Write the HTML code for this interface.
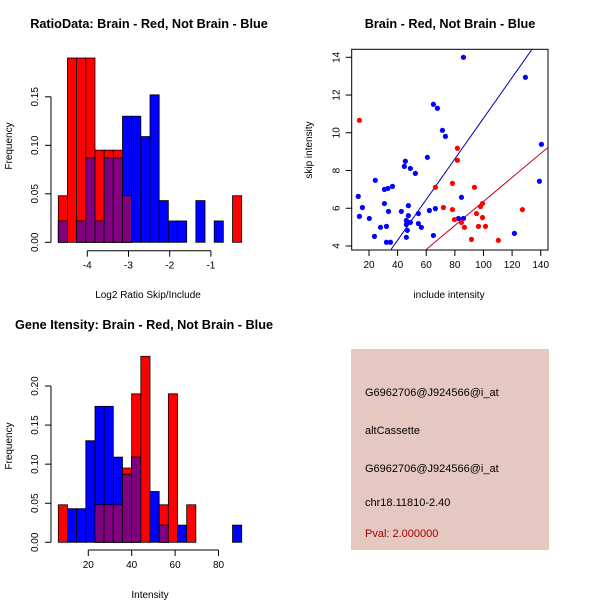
<!DOCTYPE html>
<html><head><meta charset="utf-8"><style>
body{margin:0;background:#fff;font-family:"Liberation Sans",sans-serif}
svg text{font-family:"Liberation Sans",sans-serif}
</style></head><body>
<svg id="c" width="600" height="600" xmlns="http://www.w3.org/2000/svg">
<rect width="600" height="600" fill="#fff"/>
<text x="149" y="28" font-size="12.7" font-weight="bold" text-anchor="middle">RatioData: Brain - Red, Not Brain - Blue</text>
<text x="450" y="28" font-size="12.7" font-weight="bold" text-anchor="middle">Brain - Red, Not Brain - Blue</text>
<text x="144" y="329" font-size="12.7" font-weight="bold" text-anchor="middle">Gene Itensity: Brain - Red, Not Brain - Blue</text>
<text x="148" y="298" font-size="10" text-anchor="middle">Log2 Ratio Skip/Include</text>
<text x="12" y="146" font-size="10" text-anchor="middle" transform="rotate(-90 12 146)">Frequency</text>
<text x="150" y="598" font-size="10" text-anchor="middle">Intensity</text>
<text x="12" y="446" font-size="10" text-anchor="middle" transform="rotate(-90 12 446)">Frequency</text>
<text x="449" y="298" font-size="10" text-anchor="middle">include intensity</text>
<text x="312" y="150" font-size="10" text-anchor="middle" transform="rotate(-90 312 150)">skip intensity</text>
<g id="h1"></g>
<g id="h2"></g>
<g id="sc"></g>
<g>
<rect x="351" y="349" width="198" height="201" fill="#e6c8c2"/>
<text x="365" y="396" font-size="11">G6962706@J924566@i_at</text>
<text x="365" y="434" font-size="11">altCassette</text>
<text x="365" y="472" font-size="11">G6962706@J924566@i_at</text>
<text x="365" y="506" font-size="11">chr18.11810-2.40</text>
<text x="365" y="537" font-size="11" fill="#a00000">Pval: 2.000000</text>
</g>
</svg>
<script>
const NS="http://www.w3.org/2000/svg";
// Ratio histogram data (20 bins)
const ratioRed=[0.048,0.19,0.19,0.19,0.095,0.095,0.095,0.048,0,0,0,0,0,0,0,0,0,0,0,0.048];
const ratioBlue=[0.022,0,0.022,0.087,0.022,0.087,0.087,0.13,0.13,0.109,0.152,0.043,0.022,0.022,0,0.043,0,0.022,0,0];
const ratioYTicks=[0,0.05,0.10,0.15];
const ratioYLabels=["0.00","0.05","0.10","0.15"];
const ratioXTicks=[-4,-3,-2,-1];
// Intensity histogram data (20 bins)
const intRed=[0.048,0,0,0,0.048,0.048,0.048,0.095,0.19,0.238,0,0.048,0.19,0,0.048,0,0,0,0,0];
const intBlue=[0,0.043,0.043,0.13,0.174,0.174,0.109,0.087,0.109,0,0.065,0.022,0,0.022,0,0,0,0,0,0.022];
const intYTicks=[0,0.05,0.10,0.15,0.20];
const intYLabels=["0.00","0.05","0.10","0.15","0.20"];
const intXTicks=[20,40,60,80];
// Scatter data
const blueX=[12.5,13.3,15.4,20.2,24.4,23.8,28,30.8,33.2,36.4,30.8,33.6,32.2,32.2,35,42.6,45.4,44.7,48.9,52.4,47.5,47.5,46.1,46.1,48.9,46.8,46.1,54.5,54.5,56.6,60.8,62.2,65,67.8,66.4,65,71.3,73.4,84.6,82.5,86,86,129.3,140.5,139.1,121.6];
const blueY=[6.63,5.57,6.04,5.46,7.48,4.51,4.99,7.0,7.05,7.16,6.25,5.83,5.04,4.2,4.2,5.83,8.49,8.22,8.11,7.85,6.14,5.61,5.35,5.14,5.25,4.83,4.46,5.72,5.19,4.99,8.7,5.88,11.51,11.3,5.98,4.56,10.13,9.81,6.58,5.46,5.46,14,12.94,9.39,7.43,4.67];
const redX=[13.3,66.4,78.3,81.8,81.8,72,78.3,79.7,84.6,86.7,91.6,93.7,95.1,96.5,97.9,99.3,99.3,101.4,110.4,127.2];
const redY=[10.66,7.11,7.32,9.18,8.54,6.04,5.93,5.4,5.25,4.99,4.35,7.11,5.72,5.04,6.09,6.25,5.51,5.04,4.3,5.93];
const lineSlopes=[0.1077,0.0636];
const sxTicks=[20,40,60,80,100,120,140];
const syTicks=[4,6,8,10,12,14];

function mk(p,tag,a){const e=document.createElementNS(NS,tag);for(const k in a)e.setAttribute(k,a[k]);p.appendChild(e);return e;}

function hist(g,red,blue,y0,yscale,yTicks,yLabels,xTicks,xpx,axisY){
  const left=58.3,bw=9.17;
  for(let i=0;i<red.length;i++){
    const x=left+i*bw;
    const r=red[i],b=blue[i],m=Math.min(r,b);
    if(r>0){const e=mk(g,'rect',{x:x,y:y0-r*yscale,width:bw,height:r*yscale,fill:'#ff0000',stroke:'#000','stroke-width':0.8});
      
      }
    if(b>0){const e=mk(g,'rect',{x:x,y:y0-b*yscale,width:bw,height:b*yscale,fill:'#0000ff',stroke:'#000','stroke-width':0.8});
      
      }
    if(m>0){const e=mk(g,'rect',{x:x,y:y0-m*yscale,width:bw,height:m*yscale,fill:'#800080',stroke:'#000','stroke-width':0.8});
      
      }
  }
  const ax=51;
  const yt=yTicks.map(v=>y0-v*yscale);
  mk(g,'line',{x1:ax,x2:ax,y1:yt[0],y2:yt[yt.length-1],stroke:'#000'});
  yTicks.forEach((v,i)=>{const y=y0-v*yscale;mk(g,'line',{x1:ax-6,x2:ax,y1:y,y2:y,stroke:'#000'});
    const t=mk(g,'text',{x:38,y:y,'font-size':10,'text-anchor':'middle',transform:`rotate(-90 38 ${y})`});t.textContent=yLabels[i];
    
    });
  const xs=xTicks.map(xpx);
  mk(g,'line',{x1:xs[0],x2:xs[xs.length-1],y1:axisY,y2:axisY,stroke:'#000'});
  xTicks.forEach(v=>{const x=xpx(v);mk(g,'line',{x1:x,x2:x,y1:axisY,y2:axisY+6,stroke:'#000'});
    const t=mk(g,'text',{x:x,y:axisY+18,'font-size':10,'text-anchor':'middle'});t.textContent=v;
    
    });
}
hist(document.getElementById('h1'),ratioRed,ratioBlue,242.3,970,ratioYTicks,ratioYLabels,ratioXTicks,v=>87.3+(v+4)*41.2,250.7);
hist(document.getElementById('h2'),intRed,intBlue,542.3,781.5,intYTicks,intYLabels,intXTicks,v=>88.3+(v-20)*2.17,550);

(function(){
  const g=document.getElementById('sc');
  const sx=v=>369+(v-20)*1.431, sy=v=>246-(v-4)*18.87;
  const L=351.7,R=548,T=49.3,B=250;
  mk(g,'rect',{x:L,y:T,width:R-L,height:B-T,fill:'none',stroke:'#000'});
  sxTicks.forEach(v=>{const x=sx(v);mk(g,'line',{x1:x,x2:x,y1:B,y2:B+6,stroke:'#000'});
    const t=mk(g,'text',{x:x,y:B+18,'font-size':10,'text-anchor':'middle'});t.textContent=v;
    
    });
  syTicks.forEach(v=>{const y=sy(v);mk(g,'line',{x1:L-6,x2:L,y1:y,y2:y,stroke:'#000'});
    const t=mk(g,'text',{x:L-12,y:y,'font-size':10,'text-anchor':'middle',transform:`rotate(-90 ${L-12} ${y})`});t.textContent=v;
    
    });
  const cp=mk(g,'clipPath',{id:'cp'});mk(cp,'rect',{x:L,y:T,width:R-L,height:B-T});
  const gl=mk(g,'g',{'clip-path':'url(#cp)'});
  const lc=['#0000aa','#bb0022'];
  lineSlopes.forEach((s,i)=>{const e=mk(gl,'line',{x1:sx(0),y1:sy(0),x2:sx(160),y2:sy(160*s),stroke:lc[i],'stroke-width':1});
    
    });
  blueX.forEach((x,i)=>{const e=mk(g,'circle',{cx:sx(x),cy:sy(blueY[i]),r:2.6,fill:'#0000ff'});
    
    });
  redX.forEach((x,i)=>{const e=mk(g,'circle',{cx:sx(x),cy:sy(redY[i]),r:2.6,fill:'#ff0000'});
    
    });
})();
</script>
</body></html>
